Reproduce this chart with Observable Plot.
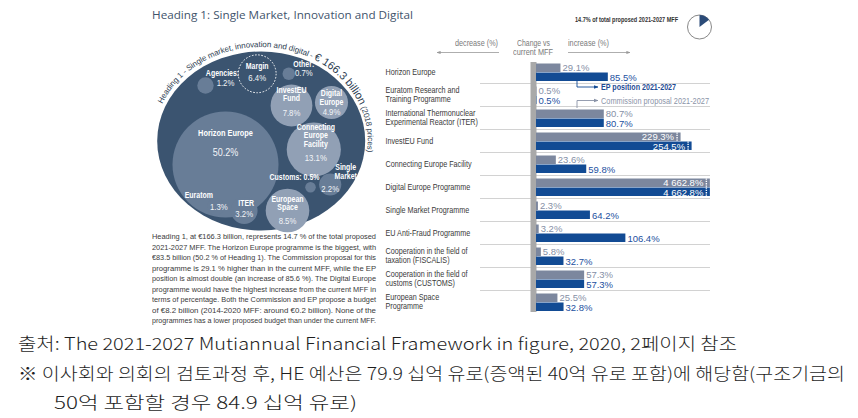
<!DOCTYPE html>
<html><head><meta charset="utf-8">
<script src="https://cdn.jsdelivr.net/npm/d3@7"></script>
<script src="https://cdn.jsdelivr.net/npm/@observablehq/plot@0.6"></script>
<style>
html,body{margin:0;padding:0;background:#fff;}
body{width:858px;height:418px;position:relative;overflow:hidden;font-family:"Liberation Sans",Arial,sans-serif;}
.a{position:absolute;white-space:nowrap;}
#bubble{position:absolute;left:140px;top:30px;}
#bars{position:absolute;left:380px;top:0px;}
#title{top:7px;font-family:"Open Sans",sans-serif;font-size:11px;line-height:16px;color:#3f546c;}
.pl{font-size:8px;line-height:10.5px;color:#3a3a3a;top:0;}
.hdr{font-size:9.5px;color:#7a7a7a;line-height:10px;}
.src{font-family:"Noto Sans CJK KR",sans-serif;font-size:17px;line-height:20px;color:#1e1e1e;font-weight:300;}
</style></head><body>
<div id="bubble"></div>
<div id="bars"></div>
<div id="title" class="a">Heading 1: Single Market, Innovation and Digital</div>
<div id="h1" class="a hdr" style="top:38px;">decrease (%)</div>
<div id="h2" class="a hdr" style="top:38px;">Change vs</div>
<div id="h3" class="a hdr" style="top:47px;">current MFF</div>
<div id="h4" class="a hdr" style="top:38px;">increase (%)</div>
<div id="pt" class="a" style="top:16px;font-size:7px;line-height:8px;font-weight:bold;color:#333;">14.7% of total proposed 2021-2027 MFF</div>
<div id="l1" class="a" style="top:82px;font-size:9.5px;line-height:10px;font-weight:bold;color:#1f4c94;">EP position 2021-2027</div>
<div id="l2" class="a" style="top:95.5px;font-size:9.5px;line-height:10px;color:#8a93a7;">Commission proposal 2021-2027</div>
<div id="s1" class="a src" style="top:333px;">출처: The 2021-2027 Mutiannual Financial Framework in figure, 2020, 2페이지 참조</div>
<div id="s2" class="a src" style="top:363px;">※ 이사회와 의회의 검토과정 후, HE 예산은 79.9 십억 유로(증액된 40억 유로 포함)에 해당함(구조기금의</div>
<div id="s3" class="a src" style="top:392px;">50억 포함할 경우 84.9 십억 유로)</div>
<script>
// ---------- DATA ----------
const programmes = ["Horizon Europe","Euratom Research and\nTraining Programme","International Thermonuclear\nExperimental Reactor (ITER)","InvestEU Fund","Connecting Europe Facility","Digital Europe Programme","Single Market Programme","EU Anti-Fraud Programme","Cooperation in the field of\ntaxation (FISCALIS)","Cooperation in the field of\ncustoms (CUSTOMS)","European Space\nProgramme"];
const commissionChange = [29.1,0.5,80.7,229.3,23.6,4662.8,2.3,3.2,5.8,57.3,25.5];
const epChange = [85.5,0.5,80.7,254.5,59.8,4662.8,64.2,106.4,32.7,57.3,32.8];

const bubbleNames = ["Horizon Europe","Connecting Europe Facility","European Space","InvestEU Fund","Margin","Digital Europe","ITER","Single Market","Euratom","Agencies","Other","Customs"];
const bubbleLabels = ["Horizon Europe","Connecting\nEurope\nFacility","European\nSpace","InvestEU\nFund","Margin","Digital\nEurope","ITER","Single\nMarket","Euratom","Agencies:","Other:","Customs:"];
const bubbleShares = [50.2,13.1,8.5,7.8,6.4,4.9,3.2,2.2,1.3,1.2,0.7,0.5];
const headingShareOfMFF = 14.7;

const paragraphLines = [
"Heading 1, at €166.3 billion, represents 14.7 % of the total proposed",
"2021-2027 MFF. The Horizon Europe programme is the biggest, with",
"€83.5 billion (50.2 % of Heading 1). The Commission proposal for this",
"programme is 29.1 % higher than in the current MFF, while the EP",
"position is almost double (an increase of 85.6 %). The Digital Europe",
"programme would have the highest increase from the current MFF in",
"terms of percentage. Both the Commission and EP propose a budget",
"of €8.2 billion (2014-2020 MFF: around €0.2 billion). None of the",
"programmes has a lower proposed budget than under the current MFF."];

// ---------- LAYOUT (bubble placement, not data) ----------
const bubblePos = {"Horizon Europe":[-35.7,23.5],"Connecting Europe Facility":[52.6,8.5],"European Space":[26.3,69.5],"InvestEU Fund":[30.3,-35.5],"Margin":[-4,-67.2],"Digital Europe":[70.3,-38.5],"ITER":[-17,69.5],"Single Market":[69,43.5],"Euratom":[-45.4,65.5],"Agencies":[-55.7,-55.5],"Other":[27.6,-67.2],"Customs":[49.3,46.2]};
const labelPos = {"Horizon Europe":[0,-31,0,-12],"Connecting Europe Facility":[2,-14,2,8],"European Space":[0,-7,0,10],"InvestEU Fund":[0,-11,0,7],"Margin":[0,-8,0,4],"Digital Europe":[0,-4.5,0,9],"ITER":[2,-7,0,3],"Single Market":[15.5,-12.5,0,4],"Euratom":[-17,-11,3,0],"Agencies":[17,-12,20,-3],"Other":[15,-10,15,-1],"Customs":[-16,-10,null,null]};
const lightSet = new Set(["Connecting Europe Facility","European Space","InvestEU Fund","Digital Europe"]);
const C_OUT = "#3b5470", C_MID = "#687d97", C_LIGHT = "#91a0b5";
const NARROW = 0.82; // Arial-like glyphs squeezed to a narrow face
const FONT = "Liberation Sans, Arial, sans-serif";

function condense(root, groups, k){
  groups.forEach(g => g.querySelectorAll("text").forEach(t => {
    t.setAttribute("transform", (t.getAttribute("transform") || "") + ` scale(${k},1)`);
  }));
}
function fitAt(el, left, width){
  el.style.transform = "";
  const w = el.getBoundingClientRect().width;
  el.style.left = left + "px";
  el.style.transformOrigin = "0 50%";
  el.style.transform = `scaleX(${width / w})`;
}

// ---------- paragraph ----------
paragraphLines.forEach((t, i) => {
  const d = document.createElement("div");
  d.className = "a pl"; d.textContent = t; d.style.top = (232 + i * 10.5) + "px";
  document.body.appendChild(d);
  fitAt(d, 152, 224);
});

// ---------- bubble chart ----------
const bubbles = bubbleNames.map((n,i) => ({name:n, label:bubbleLabels[i], share:bubbleShares[i], x:bubblePos[n][0], y:bubblePos[n][1]}));
const nameLabels = bubbles.map(b => {
  const L = labelPos[b.name];
  return {text: L[2]===null ? b.label + " " + b.share + "%" : b.label, x:b.x+L[0], y:b.y+L[1], size: b.name==="Horizon Europe" ? 9 : 8.5};
});
const pctLabels = bubbles.filter(b => labelPos[b.name][2]!==null).map(b => {
  const L = labelPos[b.name];
  return {text: b.share + "%", x:b.x+L[2], y:b.y+L[3], size: b.name==="Horizon Europe" ? 11 : 9.5};
});
const bub = Plot.plot({
  width:250, height:215, margin:0,
  style:{background:"transparent", overflow:"visible"},
  x:{domain:[-120.7,129.3], range:[0,250], axis:null},
  y:{domain:[-110.5,104.5], range:[0,215], axis:null},
  r:{type:"sqrt", domain:[0,50.2], range:[0,53]},
  marks:[
    Plot.dot([{x:0,y:0}], {x:"x", y:"y", r:94, fill:C_OUT}),
    Plot.dot(bubbles.filter(b=>b.name!=="Margin"), {x:"x", y:"y", r:"share", fill:b=>lightSet.has(b.name)?C_LIGHT:C_MID}),
    Plot.dot(bubbles.filter(b=>b.name==="Margin"), {x:"x", y:"y", r:"share", fill:C_OUT, stroke:"white", strokeWidth:1, strokeDasharray:"1.6,1.6"}),
    Plot.text(nameLabels, {x:"x", y:"y", text:"text", fontSize:"size", fill:"white", fontWeight:"bold", lineHeight:1.0, fontFamily:FONT}),
    Plot.text(pctLabels, {x:"x", y:"y", text:"text", fontSize:"size", fill:"#f2f4f7", fontFamily:FONT})
  ]
});
document.getElementById("bubble").appendChild(bub);
condense(bub, bub.querySelectorAll('g[aria-label="text"]'), NARROW);
{
  const c = bub.querySelector('g[aria-label="dot"] circle');
  const cx = 120.7, cy = 110.5;
  c.setAttribute("transform", `translate(${cx},${cy}) scale(${104/94},${89.5/94}) translate(${-cx},${-cy})`);
  const svg = d3.select(bub);
  const rx = 107, ry = 93.5, a0 = 157*Math.PI/180, a1 = -30*Math.PI/180;
  const p0 = [cx + rx*Math.cos(a0), cy - ry*Math.sin(a0)], p1 = [cx + rx*Math.cos(a1), cy - ry*Math.sin(a1)];
  svg.append("defs").append("path").attr("id","arcp").attr("d",`M${p0[0]},${p0[1]} A${rx},${ry} 0 1,1 ${p1[0]},${p1[1]}`);
  const t = svg.append("text").attr("fill","#2e3e52").attr("text-anchor","start")
    .style("font-family",FONT).style("letter-spacing","-0.1px");
  const tp = t.append("textPath").attr("href","#arcp").attr("startOffset",0);
  tp.append("tspan").attr("font-size",8).text("Heading 1 - Single market, innovation and digital - ");
  tp.append("tspan").attr("font-size",11).text("€ 166.3 billion");
  tp.append("tspan").attr("font-size",8).text(" (2018 prices)");
}

// ---------- bar chart ----------
const rows = programmes.flatMap((p,i) => [{p, s:"Commission", v:commissionChange[i]}, {p, s:"EP", v:epChange[i]}]);
const com = rows.filter(d=>d.s==="Commission"), ep = rows.filter(d=>d.s==="EP");
const fmt = v => (v >= 1000 ? d3.format(",.1f")(v).replace(",", " ") : v.toFixed(1)) + "%";
const BREAK = 200;
const GRAY = "#7c879e", BLUE = "#124b94";
const bars = Plot.plot({
  width:478, height:325,
  marginLeft:5, marginRight:148, marginTop:62, marginBottom:13,
  style:{background:"transparent", overflow:"visible"},
  x:{type:"linear", domain:[0,110,260,4700], range:[156,248.4,314,330], axis:null},
  y:{type:"band", domain:programmes, range:[61,314], padding:0, axis:null},
  marks:[
    Plot.ruleY(programmes.slice(0,-1), {y:d=>d, dy:10.5, stroke:"#d2d2d2", strokeWidth:1, insetLeft:95}),
    Plot.ruleX([0], {stroke:"#a9a9a9", strokeWidth:6, dx:-3}),
    Plot.barX(com, {y:"p", x:"v", fill:GRAY, insetTop:2.5, insetBottom:12}),
    Plot.barX(ep, {y:"p", x:"v", fill:BLUE, insetTop:11.5, insetBottom:3}),
    Plot.tickX(com.filter(d=>d.v>BREAK), {y:"p", x:"v", dx:-4, stroke:"white", strokeWidth:1.4, strokeDasharray:"1.3,1", insetTop:2.5, insetBottom:12}),
    Plot.tickX(ep.filter(d=>d.v>BREAK), {y:"p", x:"v", dx:-4, stroke:"white", strokeWidth:1.4, strokeDasharray:"1.3,1", insetTop:11.5, insetBottom:3}),
    Plot.text(com.filter(d=>d.v<=BREAK), {y:"p", x:"v", text:d=>fmt(d.v), dy:-4.75, dx:1.5, textAnchor:"start", fill:"#8690a6", fontSize:9.5, fontFamily:FONT}),
    Plot.text(ep.filter(d=>d.v<=BREAK), {y:"p", x:"v", text:d=>fmt(d.v), dy:4.75, dx:1.5, textAnchor:"start", fill:"#2350a0", fontSize:9.5, fontFamily:FONT}),
    Plot.text(com.filter(d=>d.v>BREAK), {y:"p", x:"v", text:d=>fmt(d.v), dy:-4.75, dx:-7, textAnchor:"end", fill:"white", fontSize:9.5, fontFamily:FONT}),
    Plot.text(ep.filter(d=>d.v>BREAK), {y:"p", x:"v", text:d=>fmt(d.v), dy:4.75, dx:-7, textAnchor:"end", fill:"white", fontSize:9.5, fontFamily:FONT}),
    Plot.text(programmes, {y:d=>d, text:d=>d, frameAnchor:"left", textAnchor:"start", dy:-1, fontSize:8.8, lineHeight:1.0, fill:"#3a3a3a", fontFamily:FONT})
  ]
});
document.getElementById("bars").appendChild(bars);
{
  const tg = bars.querySelectorAll('g[aria-label="text"]');
  condense(bars, [tg[tg.length-1]], NARROW);
}

// ---------- decorations: header arrows, legend connectors, share pie ----------
const ov = d3.select("body").append("svg").attr("width",858).attr("height",418)
  .style("position","absolute").style("left",0).style("top",0).style("pointer-events","none");
const defs = ov.append("defs");
function marker(id, col){ defs.append("marker").attr("id",id).attr("viewBox","0 0 10 10").attr("refX",9).attr("refY",5)
  .attr("markerWidth",5).attr("markerHeight",5).attr("orient","auto")
  .append("path").attr("d","M0,1 L10,5 L0,9 z").attr("fill",col); }
marker("mg","#999"); marker("mb",BLUE); marker("mc","#8a93a7");
ov.append("path").attr("d","M499,52.5 H437").attr("stroke","#999").attr("stroke-width",0.8).attr("fill","none").attr("marker-end","url(#mg)");
ov.append("path").attr("d","M568,52.5 H630").attr("stroke","#999").attr("stroke-width",0.8).attr("fill","none").attr("marker-end","url(#mg)");
ov.append("path").attr("d","M577,81 V87 H598").attr("stroke",BLUE).attr("stroke-width",0.9).attr("fill","none").attr("marker-end","url(#mb)");
ov.append("path").attr("d","M577,108 V100.5 H598").attr("stroke","#8a93a7").attr("stroke-width",0.9).attr("fill","none").attr("marker-end","url(#mc)");
const pie = ov.append("g").attr("transform","translate(699.5,27)");
pie.append("circle").attr("r",12).attr("fill","white").attr("stroke","#6a6a6a").attr("stroke-width",0.8);
pie.append("path").attr("d", d3.arc()({innerRadius:0, outerRadius:12, startAngle:0, endAngle:2*Math.PI*headingShareOfMFF/100})).attr("fill","#2b4b78");

// ---------- squeeze the HTML texts to the widths they have in the original ----------
fitAt(document.getElementById("title"), 152, 261);
fitAt(document.getElementById("h1"), 455, 43);
fitAt(document.getElementById("h2"), 517, 33);
fitAt(document.getElementById("h3"), 513, 40);
fitAt(document.getElementById("h4"), 568, 41);
fitAt(document.getElementById("pt"), 575, 103);
fitAt(document.getElementById("l1"), 601, 75);
fitAt(document.getElementById("l2"), 601, 108);
fitAt(document.getElementById("s1"), 18, 719);
fitAt(document.getElementById("s2"), 18, 827);
fitAt(document.getElementById("s3"), 54, 303);
</script>
</body></html>
